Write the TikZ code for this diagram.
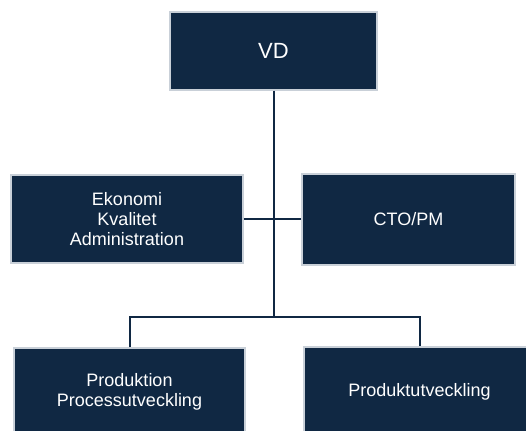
\documentclass[tikz,border=0pt]{standalone}
\usepackage{fontspec}
\setmainfont{Liberation Sans}
\definecolor{navy}{HTML}{102843}
\definecolor{edge}{HTML}{C9D0D8}
\begin{document}
\begin{tikzpicture}[x=1pt,y=-1pt,
  box/.style={rectangle, fill=navy, draw=edge, line width=1.2pt, text=white, align=center,
    font=\fontsize{18}{20}\selectfont, inner sep=0pt},
  link/.style={draw=navy, line width=2pt}]
\useasboundingbox (0,0) rectangle (526,430);
\clip (0,0) rectangle (526,430);
\fill[white] (0,0) rectangle (526,430);
\node[box, minimum width=207pt, minimum height=78pt, font=\fontsize{22}{24}\selectfont] (vd) at (273.5,51) {VD};
\node[box, minimum width=232pt, minimum height=88pt] (lm) at (127,219) {Ekonomi\\Kvalitet\\Administration};
\node[box, minimum width=213pt, minimum height=91pt] (rm) at (408.5,219.5) {CTO/PM};
\node[box, minimum width=231pt, minimum height=88pt] (bl) at (129.5,392) {Produktion\\Processutveckling};
\node[box, minimum width=231pt, minimum height=89pt] (br) at (419.5,391.5) {Produktutveckling};
\coordinate (bus) at (273.5,317);
\draw[link] (vd.south) -- (bus);
\draw[link] (lm.east) -- (lm.east -| rm.west);
\draw[link] (bl.north) |- (bus) -| (br.north);
\end{tikzpicture}
\end{document}
